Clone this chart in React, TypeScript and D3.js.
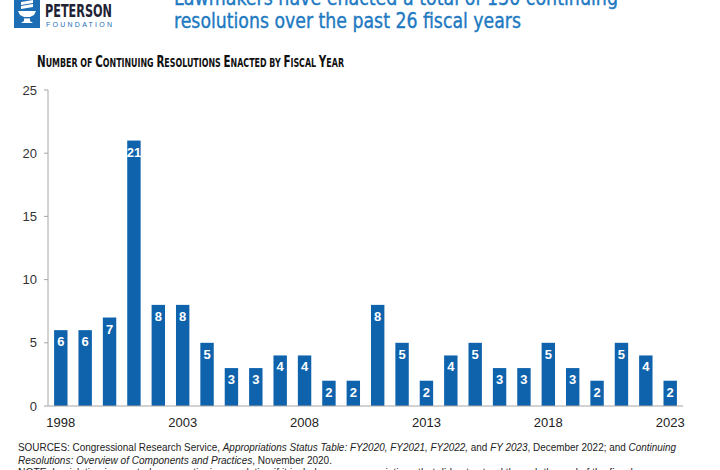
import React from "react";
import * as d3 from "d3";

const years = [1998,1999,2000,2001,2002,2003,2004,2005,2006,2007,2008,2009,2010,2011,2012,2013,2014,2015,2016,2017,2018,2019,2020,2021,2022,2023];
const counts = [6,6,7,21,8,8,5,3,3,4,4,2,2,8,5,2,4,5,3,3,5,3,2,5,4,2];
const yTicks = [0,5,10,15,20,25];
const xTickYears = [1998,2003,2008,2013,2018,2023];
const subtitleWords = ["Number", "of", "Continuing", "Resolutions", "Enacted", "by", "Fiscal", "Year"];

const W = 720, H = 470;
const BAR = "#0f63ad";
const TITLE_BLUE = "#2179c2";

export default function App() {
  const x = d3.scaleBand<number>().domain(years).range([48, 683]).paddingInner(0.45).paddingOuter(0.25);
  const y = d3.scaleLinear().domain([0, 25]).range([406, 90]);
  const font = "'Liberation Sans', Arial, sans-serif";
  const cond = "'Liberation Sans Narrow', 'DejaVu Sans Condensed', 'Roboto', sans-serif";
  const subParts: { t: string; big: boolean }[] = [];
  subtitleWords.forEach((w, i) => {
    const first = w[0];
    const isBig = first === first.toUpperCase();
    subParts.push({ t: first.toUpperCase(), big: isBig });
    subParts.push({ t: w.slice(1).toUpperCase() + (i < subtitleWords.length - 1 ? " " : ""), big: false });
  });
  return (
    <svg width={W} height={H} style={{ position: "absolute", left: 0, top: 0, background: "#fff" }}>
      <rect x={0} y={0} width={W} height={H} fill="#fff" />
      {/* Logo */}
      <rect x={14} y={0} width={26} height={28} fill="#1d6db5" />
      <g fill="#fff">
        <path d="M18,11 L36,11 L34,15 L30,17 L30,21 L33,23 L21,23 L24,21 L24,17 L20,15 Z" />
        <path d="M21,2 L33,0 L33,3 L21,5 Z" />
        <path d="M21,6 L33,4 L33,7 L21,9 Z" />
      </g>
      <rect x={24} y={17} width={6} height={1.4} fill="#1d6db5" />
      <text x={45} y={17} fontFamily={cond} fontWeight={700} fontSize={18} fill="#1e2233" textLength={67} lengthAdjust="spacingAndGlyphs">PETERSON</text>
      <text x={46} y={27} fontFamily={font} fontSize={7} fill="#1d6db5" textLength={66} lengthAdjust="spacing">FOUNDATION</text>
      {/* Title */}
      <text x={174} y={5} fontFamily={cond} fontSize={21} fill={TITLE_BLUE} stroke={TITLE_BLUE} strokeWidth={0.35} textLength={444} lengthAdjust="spacingAndGlyphs">Lawmakers have enacted a total of 130 continuing</text>
      <text x={174} y={28} fontFamily={cond} fontSize={21} fill={TITLE_BLUE} stroke={TITLE_BLUE} strokeWidth={0.35} textLength={347} lengthAdjust="spacingAndGlyphs">resolutions over the past 26 fiscal years</text>
      {/* Subtitle */}
      <text x={37} y={67} fontFamily={cond} fontWeight={700} fill="#111" textLength={307} lengthAdjust="spacingAndGlyphs">
        {subParts.map((p, i) => (
          <tspan key={i} fontSize={p.big ? 15 : 11.5}>{p.t}</tspan>
        ))}
      </text>
      {/* Y axis */}
      <line x1={48} x2={48} y1={y(25)} y2={y(0)} stroke="#a6a6a6" strokeWidth={1} />
      {yTicks.map(t => (
        <g key={t}>
          <line x1={44} x2={48} y1={y(t)} y2={y(t)} stroke="#a6a6a6" />
          <text x={37} y={y(t)} dy="0.35em" textAnchor="end" fontFamily={font} fontSize={13} fill="#333">{t}</text>
        </g>
      ))}
      {/* Bars */}
      {years.map((yr, i) => {
        const bx = x(yr)!;
        const bw = x.bandwidth();
        const top = y(counts[i]);
        return (
          <g key={yr}>
            <rect x={bx} y={top} width={bw} height={y(0) - top} fill={BAR} />
            <text x={bx + bw / 2} y={top + 16} textAnchor="middle" fontFamily={font} fontWeight={700} fontSize={13} fill="#fff">{counts[i]}</text>
          </g>
        );
      })}
      <line x1={48} x2={683} y1={y(0)} y2={y(0)} stroke="#a6a6a6" strokeWidth={1.2} />
      {xTickYears.map(yr => (
        <text key={yr} x={x(yr)! + x.bandwidth() / 2} y={427} textAnchor="middle" fontFamily={font} fontSize={13} fill="#222">{yr}</text>
      ))}
      {/* Sources */}
      <text x={18} y={451} fontFamily={font} fontSize={10.5} fill="#222" textLength={658} lengthAdjust="spacingAndGlyphs">
        SOURCES: Congressional Research Service, <tspan fontStyle="italic">Appropriations Status Table: FY2020, FY2021, FY2022,</tspan> and <tspan fontStyle="italic">FY 2023</tspan>, December 2022; and <tspan fontStyle="italic">Continuing</tspan>
      </text>
      <text x={18} y={464} fontFamily={font} fontSize={10.5} fill="#222" textLength={314} lengthAdjust="spacingAndGlyphs">
        <tspan fontStyle="italic">Resolutions: Overview of Components and Practices</tspan>, November 2020.
      </text>
      <text x={18} y={476} fontFamily={font} fontSize={10.5} fill="#222" textLength={640} lengthAdjust="spacingAndGlyphs">
        NOTE: Legislation is counted as a continuing resolution if it includes any appropriations that did not extend through the end of the fiscal year.
      </text>
    </svg>
  );
}
